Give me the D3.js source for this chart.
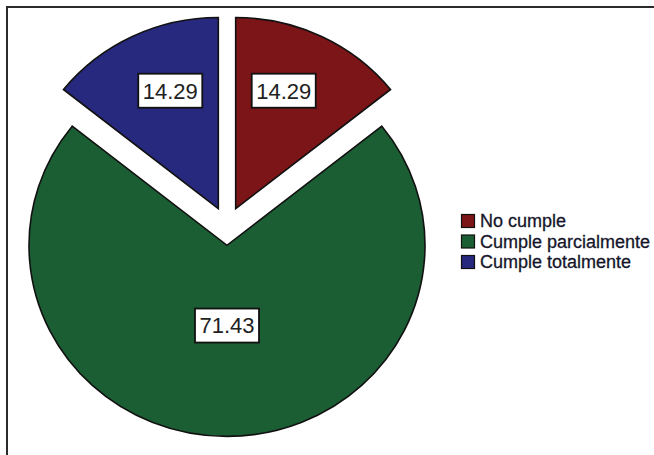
<!DOCTYPE html>
<html>
<head>
<meta charset="utf-8">
<script src="https://cdn.jsdelivr.net/npm/d3@7/dist/d3.min.js"></script>
<style>
  html, body { margin: 0; padding: 0; background: #fff; }
  svg { display: block; }
  text { font-family: Arial, "Liberation Sans", sans-serif; }
</style>
</head>
<body>
<svg id="chart" width="654" height="455"></svg>
<script>
// Categories, values and colours of the pie
const categories = ["No cumple", "Cumple parcialmente", "Cumple totalmente"];
const values = [14.29, 71.43, 14.29];
const colors = ["#7b1517", "#1b5e33", "#27297f"];

const svg = d3.select("#chart");

// Outer frame
svg.append("rect")
  .attr("x", 7).attr("y", 7)
  .attr("width", 700).attr("height", 500)
  .attr("fill", "none")
  .attr("stroke", "#2b2b2b")
  .attr("stroke-width", 2);

const cx = 227, cy = 226;
const r = 198;
const sy = 0.965;      // vertical squash of the pie
const explode = 20;    // offset of each slice along its bisector

const pie = d3.pie().sort(null).value(d => d)
  .startAngle(0).endAngle(2 * Math.PI);
const arcs = pie(values);
const arc = d3.arc().innerRadius(0).outerRadius(r);

const pieG = svg.append("g")
  .attr("transform", `translate(${cx},${cy}) scale(1,${sy})`);

pieG.selectAll("path")
  .data(arcs)
  .join("path")
  .attr("d", arc)
  .attr("transform", d => {
    const m = (d.startAngle + d.endAngle) / 2;
    return `translate(${Math.sin(m) * explode},${-Math.cos(m) * explode})`;
  })
  .attr("fill", (d, i) => colors[i])
  .attr("stroke", "#111")
  .attr("stroke-width", 1.6)
  .attr("stroke-linejoin", "miter")
  .style("vector-effect", "non-scaling-stroke");

// Value labels in white boxes
const labelG = svg.append("g");
arcs.forEach((d, i) => {
  const m = (d.startAngle + d.endAngle) / 2;
  const half = (d.endAngle - d.startAngle) / 2;
  const sectorCentroid = 2 * r * Math.sin(half) / (3 * half);
  const lr = Math.max(sectorCentroid + 8, 0.42 * r) + explode;
  const x = cx + Math.sin(m) * lr * 0.84;
  const y = cy - Math.cos(m) * lr * sy;
  const g = labelG.append("g").attr("transform", `translate(${x},${y})`);
  const w = 64, h = 34;
  g.append("rect")
    .attr("x", -w / 2).attr("y", -h / 2)
    .attr("width", w).attr("height", h)
    .attr("fill", "#fff")
    .attr("stroke", "#111")
    .attr("stroke-width", 1.8);
  g.append("text")
    .attr("text-anchor", "middle")
    .attr("dy", "0.36em")
    .attr("font-size", 22)
    .attr("fill", "#222")
    .text(d3.format(".2f")(values[i]));
});

// Legend
const legend = svg.append("g").attr("transform", "translate(461,214)");
const rowH = 20.5;
categories.forEach((c, i) => {
  const row = legend.append("g").attr("transform", `translate(0,${i * rowH})`);
  row.append("rect")
    .attr("x", 0.5).attr("y", 0.5)
    .attr("width", 13).attr("height", 13)
    .attr("fill", colors[i])
    .attr("stroke", "#111")
    .attr("stroke-width", 1.2);
  row.append("text")
    .attr("x", 19).attr("y", 7)
    .attr("dy", "0.36em")
    .attr("font-size", 18)
    .attr("fill", "#15152a")
    .attr("stroke", "#15152a")
    .attr("stroke-width", 0.3)
    .text(c);
});
</script>
</body>
</html>
